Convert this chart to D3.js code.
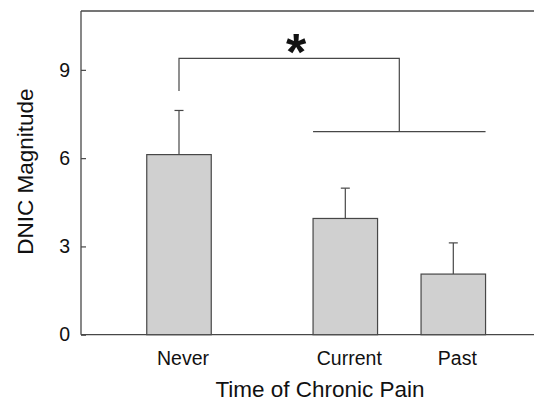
<!DOCTYPE html>
<html>
<head>
<meta charset="utf-8">
<script src="https://cdn.jsdelivr.net/npm/d3@7"></script>
<style>
  body { margin: 0; background: #fff; }
  svg { display: block; font-family: "Liberation Sans", Arial, sans-serif; }
</style>
</head>
<body>
<svg width="534" height="400"></svg>
<script>
// data
var groups = ["Never", "Current", "Past"];
var slots = [1, 2.54, 3.54];          // bar centre positions (gap after Never)
var means = [6.12, 3.95, 2.06];
var upper = [7.62, 4.98, 3.12];       // top of error bar
var yTicks = [0, 3, 6, 9];

// significance bracket
var bracketTop = 9.39;
var bracketLeftLow = 8.28;
var bracketRightLow = 6.9;

var svg = d3.select("svg");
var plotLeft = 81, plotRight = 534, plotTop = 11, plotBottom = 334.7;
var ink = "#474747";

var y = d3.scaleLinear().domain([0, 11]).range([plotBottom, plotTop]);
var x = d3.scaleLinear().domain([1, 3.54]).range([179, 453.3]);
var barW = 64.5;

// frame: left, top, bottom (no right edge in view)
svg.append("line").attr("x1", plotLeft).attr("x2", plotLeft).attr("y1", plotTop).attr("y2", plotBottom)
  .attr("stroke", ink).attr("stroke-width", 1.3);
svg.append("line").attr("x1", plotLeft).attr("x2", plotRight).attr("y1", plotTop).attr("y2", plotTop)
  .attr("stroke", ink).attr("stroke-width", 1.3);
svg.append("line").attr("x1", plotLeft).attr("x2", plotRight).attr("y1", plotBottom).attr("y2", plotBottom)
  .attr("stroke", ink).attr("stroke-width", 1.3);

// y axis, ticks pointing inward
var yAxis = d3.axisLeft(y).tickValues(yTicks).tickSizeInner(-5).tickSizeOuter(0).tickPadding(11);
var ya = svg.append("g").attr("transform", "translate(" + plotLeft + ",0)").call(yAxis);
ya.select(".domain").remove();
ya.selectAll(".tick line").attr("stroke", ink).attr("stroke-width", 1.2);
ya.selectAll(".tick text").attr("font-size", 19.5).attr("fill", "#111")
  .attr("font-family", "Liberation Sans, Arial, sans-serif");

// error bars
svg.selectAll(".err").data(groups).enter().append("line")
  .attr("x1", function(d, i) { return x(slots[i]); })
  .attr("x2", function(d, i) { return x(slots[i]); })
  .attr("y1", function(d, i) { return y(means[i]); })
  .attr("y2", function(d, i) { return y(upper[i]); })
  .attr("stroke", ink).attr("stroke-width", 1.2);
svg.selectAll(".cap").data(groups).enter().append("line")
  .attr("x1", function(d, i) { return x(slots[i]) - 4.5; })
  .attr("x2", function(d, i) { return x(slots[i]) + 4.5; })
  .attr("y1", function(d, i) { return y(upper[i]); })
  .attr("y2", function(d, i) { return y(upper[i]); })
  .attr("stroke", ink).attr("stroke-width", 1.2);

// bars
svg.selectAll(".bar").data(groups).enter().append("rect")
  .attr("x", function(d, i) { return x(slots[i]) - barW / 2; })
  .attr("width", barW)
  .attr("y", function(d, i) { return y(means[i]); })
  .attr("height", function(d, i) { return y(0) - y(means[i]); })
  .attr("fill", "#d0d0d0").attr("stroke", ink).attr("stroke-width", 1.2);

// category labels
svg.selectAll(".lab").data(groups).enter().append("text")
  .attr("x", function(d, i) { return x(slots[i]) + 4; })
  .attr("y", 365)
  .attr("text-anchor", "middle").attr("font-size", 19.5).attr("fill", "#111")
  .text(function(d) { return d; });

// bracket
var xa = x(slots[0]);
var xl = x(slots[1]) - barW / 2, xr = x(slots[2]) + barW / 2, xm = (xl + xr) / 2;
var bracket = d3.path();
bracket.moveTo(xa, y(bracketLeftLow));
bracket.lineTo(xa, y(bracketTop));
bracket.lineTo(xm, y(bracketTop));
bracket.lineTo(xm, y(bracketRightLow));
bracket.moveTo(xl, y(bracketRightLow));
bracket.lineTo(xr, y(bracketRightLow));
svg.append("path").attr("d", bracket.toString())
  .attr("fill", "none").attr("stroke", ink).attr("stroke-width", 1.2);

svg.append("text").attr("x", 296).attr("y", 70).attr("text-anchor", "middle")
  .attr("font-size", 52).attr("font-weight", "bold").attr("fill", "#111").text("*");

// axis titles
svg.append("text").attr("x", 320).attr("y", 396.5).attr("text-anchor", "middle")
  .attr("font-size", 22.5).attr("fill", "#111").text("Time of Chronic Pain");
svg.append("text").attr("transform", "translate(33,171.7) rotate(-90)")
  .attr("text-anchor", "middle").attr("font-size", 22.5).attr("fill", "#111")
  .text("DNIC Magnitude");
</script>
</body>
</html>
